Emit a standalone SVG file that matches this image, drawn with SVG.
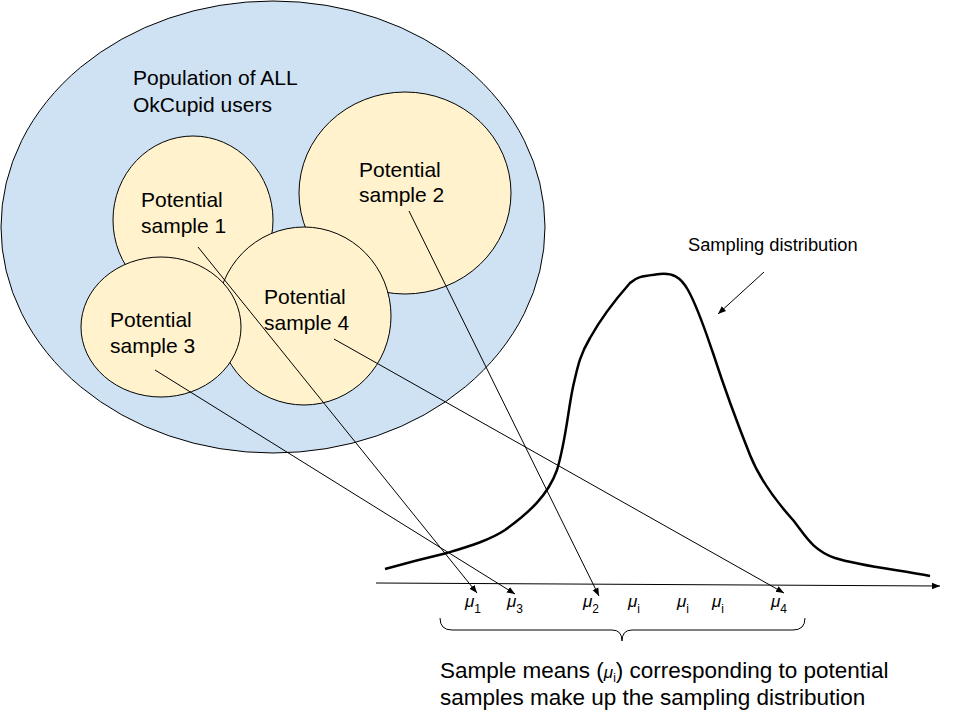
<svg xmlns="http://www.w3.org/2000/svg" width="960" height="720" viewBox="0 0 960 720">
<defs>
<marker id="ah" viewBox="0 0 10 10" refX="10" refY="5" markerWidth="8" markerHeight="8" markerUnits="userSpaceOnUse" orient="auto">
<path d="M0,1 L10,5 L0,9 Z" fill="#000"/>
</marker>
</defs>
<style>
.pop{fill:#cfe2f3;stroke:#000;stroke-width:1}
.smp{fill:#fff2cc;stroke:#000;stroke-width:1}
.t{font-family:"Liberation Sans",Arial,sans-serif;font-size:21px;fill:#000}
.c{font-family:"Liberation Sans",Arial,sans-serif;font-size:22.5px;fill:#000}
.s{font-family:"Liberation Sans",Arial,sans-serif;font-size:18.3px;fill:#000}
.mu{font-family:"Liberation Sans",Arial,sans-serif;font-style:italic;font-size:17px;fill:#000}
.sub{font-family:"Liberation Sans",Arial,sans-serif;font-size:12px;fill:#000}
.ln{stroke:#000;stroke-width:1;fill:none}
</style>
<rect width="960" height="720" fill="#fff"/>
<g id="population">
<ellipse class="pop" cx="273" cy="227" rx="272" ry="226"/>
<text class="t" x="133" y="85">Population of ALL</text>
<text class="t" x="133" y="112">OkCupid users</text>
</g>
<g id="sample1">
<ellipse class="smp" cx="193" cy="220" rx="80" ry="84"/>
<text class="t" x="141" y="207">Potential</text>
<text class="t" x="141" y="233">sample 1</text>
</g>
<g id="sample2">
<ellipse class="smp" cx="405" cy="193" rx="106" ry="101"/>
<text class="t" x="359" y="177">Potential</text>
<text class="t" x="359" y="202">sample 2</text>
</g>
<g id="sample4">
<ellipse class="smp" cx="304" cy="316" rx="87" ry="89"/>
<text class="t" x="264" y="304">Potential</text>
<text class="t" x="264" y="330">sample 4</text>
</g>
<g id="sample3">
<ellipse class="smp" cx="161" cy="327" rx="80" ry="70"/>
<text class="t" x="110" y="327">Potential</text>
<text class="t" x="110" y="353">sample 3</text>
</g>
<g id="distribution">
<path d="M385,569 C410,562 430,557 447,553 C470,546 490,540 505,530 C530,512 548,495 557,470 C566,440 568,410 573,387 C578,365 580,355 590,338 C600,320 615,300 630,283 C637,276 645,276 660,274 C672,273 680,276 688,290 C698,308 705,330 713,353 C725,390 738,425 750,455 C760,480 775,500 793,520 C805,535 812,550 835,558 C860,566 900,570 930,576" fill="none" stroke="#000" stroke-width="2.5"/>
<text class="s" x="688" y="251">Sampling distribution</text>
</g>
<g id="axis">
<line class="ln" x1="376" y1="583" x2="940" y2="586" marker-end="url(#ah)"/>
</g>
<g id="means">
<text x="465" y="607"><tspan class="mu">μ</tspan><tspan class="sub" dy="6">1</tspan></text>
<text x="507" y="607"><tspan class="mu">μ</tspan><tspan class="sub" dy="6">3</tspan></text>
<text x="583" y="607"><tspan class="mu">μ</tspan><tspan class="sub" dy="6">2</tspan></text>
<text x="628" y="607"><tspan class="mu">μ</tspan><tspan class="sub" dy="6">i</tspan></text>
<text x="677" y="607"><tspan class="mu">μ</tspan><tspan class="sub" dy="6">i</tspan></text>
<text x="712" y="607"><tspan class="mu">μ</tspan><tspan class="sub" dy="6">i</tspan></text>
<text x="771" y="607"><tspan class="mu">μ</tspan><tspan class="sub" dy="6">4</tspan></text>
</g>
<g id="connectors">
<line class="ln" x1="198" y1="247" x2="477" y2="593" marker-end="url(#ah)"/>
<line class="ln" x1="155" y1="370" x2="515" y2="594" marker-end="url(#ah)"/>
<line class="ln" x1="409" y1="211" x2="599" y2="596" marker-end="url(#ah)"/>
<line class="ln" x1="334" y1="339" x2="784" y2="593" marker-end="url(#ah)"/>
<line class="ln" x1="764" y1="272" x2="718" y2="314" marker-end="url(#ah)"/>
</g>
<g id="brace">
<path class="ln" d="M440,618 Q440,630 452,630 L612,630 Q622,630 622,641 Q622,630 632,630 L793,630 Q805,630 805,618"/>
</g>
<g id="caption">
<text class="c" x="440" y="678">Sample means (<tspan class="mu" font-size="20">μ</tspan><tspan class="sub" dy="4">i</tspan><tspan dy="-4">) corresponding to potential</tspan></text>
<text class="c" x="440" y="705">samples make up the sampling distribution</text>
</g>
</svg>
